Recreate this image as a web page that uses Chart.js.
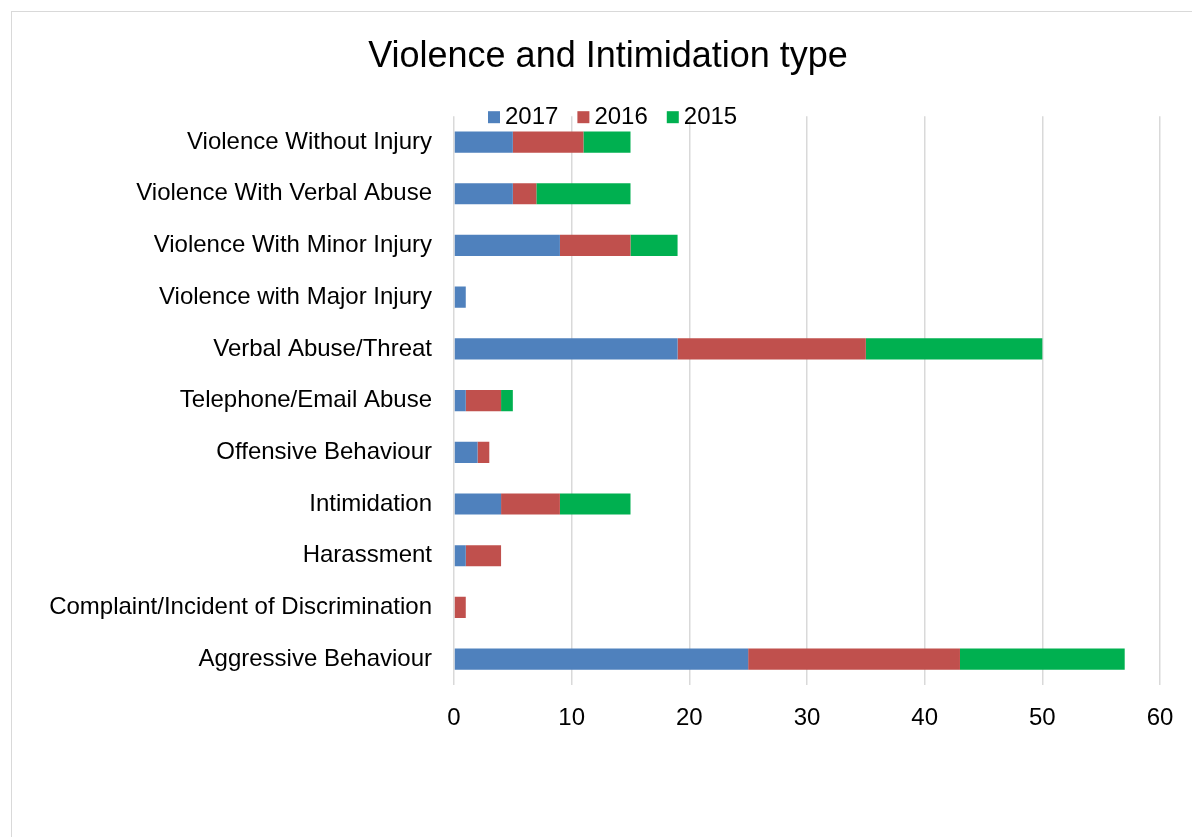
<!DOCTYPE html>
<html>
<head>
<meta charset="utf-8">
<title>Violence and Intimidation type</title>
<script src="https://cdn.jsdelivr.net/npm/chart.js@4/dist/chart.umd.min.js"></script>
<style>
    html, body { margin: 0; padding: 0; background: #fff; overflow: hidden; }
    .chart-frame {
        position: absolute;
        left: 11px;
        top: 11px;
        width: 1192px;
        height: 900px;
        border: 1px solid #d9d9d9;
    }
    .chart-frame canvas { display: block; }
</style>
</head>
<body>
<div class="chart-frame">
    <canvas id="typeChart" width="1192" height="826"></canvas>
</div>
<script>
// Chart data
const categories = [
    'Violence Without Injury',
    'Violence With Verbal Abuse',
    'Violence With Minor Injury',
    'Violence with Major Injury',
    'Verbal Abuse/Threat',
    'Telephone/Email Abuse',
    'Offensive Behaviour',
    'Intimidation',
    'Harassment',
    'Complaint/Incident of Discrimination',
    'Aggressive Behaviour'
];
const values2017 = [5, 5, 9, 1, 19, 1, 2, 4, 1, 0, 25];
const values2016 = [6, 2, 6, 0, 16, 3, 1, 5, 3, 1, 18];
const values2015 = [4, 8, 4, 0, 15, 1, 0, 6, 0, 0, 14];
const xTicks = [0, 10, 20, 30, 40, 50, 60];

const FONT = '"Liberation Sans", Arial, sans-serif';

// Legend sits on the top edge of the plot, like the Excel original
const overlapLegend = {
    id: 'overlapLegend',
    afterDraw(chart) {
        const ctx = chart.ctx;
        const sets = chart.data.datasets;
        const box = 12, gap = 5, spacing = 19;
        ctx.save();
        ctx.font = '24px ' + FONT;
        ctx.textBaseline = 'middle';
        let x = 476;
        const y = chart.chartArea.top + 1;
        sets.forEach(ds => {
            ctx.fillStyle = ds.backgroundColor;
            ctx.fillRect(x, y - box / 2, box, box);
            ctx.fillStyle = '#000';
            ctx.fillText(ds.label, x + box + gap, y);
            x += box + gap + ctx.measureText(ds.label).width + spacing;
        });
        ctx.restore();
    }
};

function initializeChart() {
    const ctx = document.getElementById('typeChart');

    new Chart(ctx, {
        type: 'bar',
        data: {
            labels: categories,
            datasets: [{
                label: '2017',
                data: values2017,
                backgroundColor: '#4f81bd'
            }, {
                label: '2016',
                data: values2016,
                backgroundColor: '#c0504d'
            }, {
                label: '2015',
                data: values2015,
                backgroundColor: '#00b050'
            }]
        },
        options: {
            indexAxis: 'y',
            responsive: false,
            animation: false,
            datasets: {
                bar: {
                    barPercentage: 0.41,
                    categoryPercentage: 1,
                    borderWidth: 0
                }
            },
            layout: {
                padding: 0
            },
            plugins: {
                legend: { display: false },
                tooltip: { enabled: false },
                title: {
                    display: true,
                    text: 'Violence and Intimidation type',
                    color: '#000',
                    font: { family: FONT, size: 36, weight: 'normal' },
                    padding: { top: 23, bottom: 38 }
                }
            },
            scales: {
                x: {
                    stacked: true,
                    min: 0,
                    max: 60,
                    afterBuildTicks(scale) {
                        scale.ticks = xTicks.map(v => ({ value: v }));
                    },
                    afterFit(scale) {
                        scale.height = 153;
                    },
                    grid: {
                        color: '#d9d9d9',
                        lineWidth: 1.5,
                        drawTicks: false
                    },
                    border: { display: false },
                    ticks: {
                        color: '#000',
                        padding: 19,
                        font: { family: FONT, size: 24 }
                    }
                },
                y: {
                    stacked: true,
                    afterFit(scale) {
                        scale.width = 442;
                    },
                    grid: { display: false, drawTicks: false },
                    border: { display: false },
                    ticks: {
                        color: '#000',
                        padding: 22,
                        autoSkip: false,
                        font: { family: FONT, size: 24 }
                    }
                },
                // empty axis on the right, only keeps the plot clear of the edge
                yGap: {
                    type: 'category',
                    position: 'right',
                    afterFit(scale) {
                        scale.width = 44;
                    },
                    grid: { display: false, drawTicks: false },
                    border: { display: false },
                    ticks: { display: false }
                }
            }
        },
        plugins: [overlapLegend]
    });
}

document.addEventListener('DOMContentLoaded', initializeChart);
</script>
</body>
</html>
